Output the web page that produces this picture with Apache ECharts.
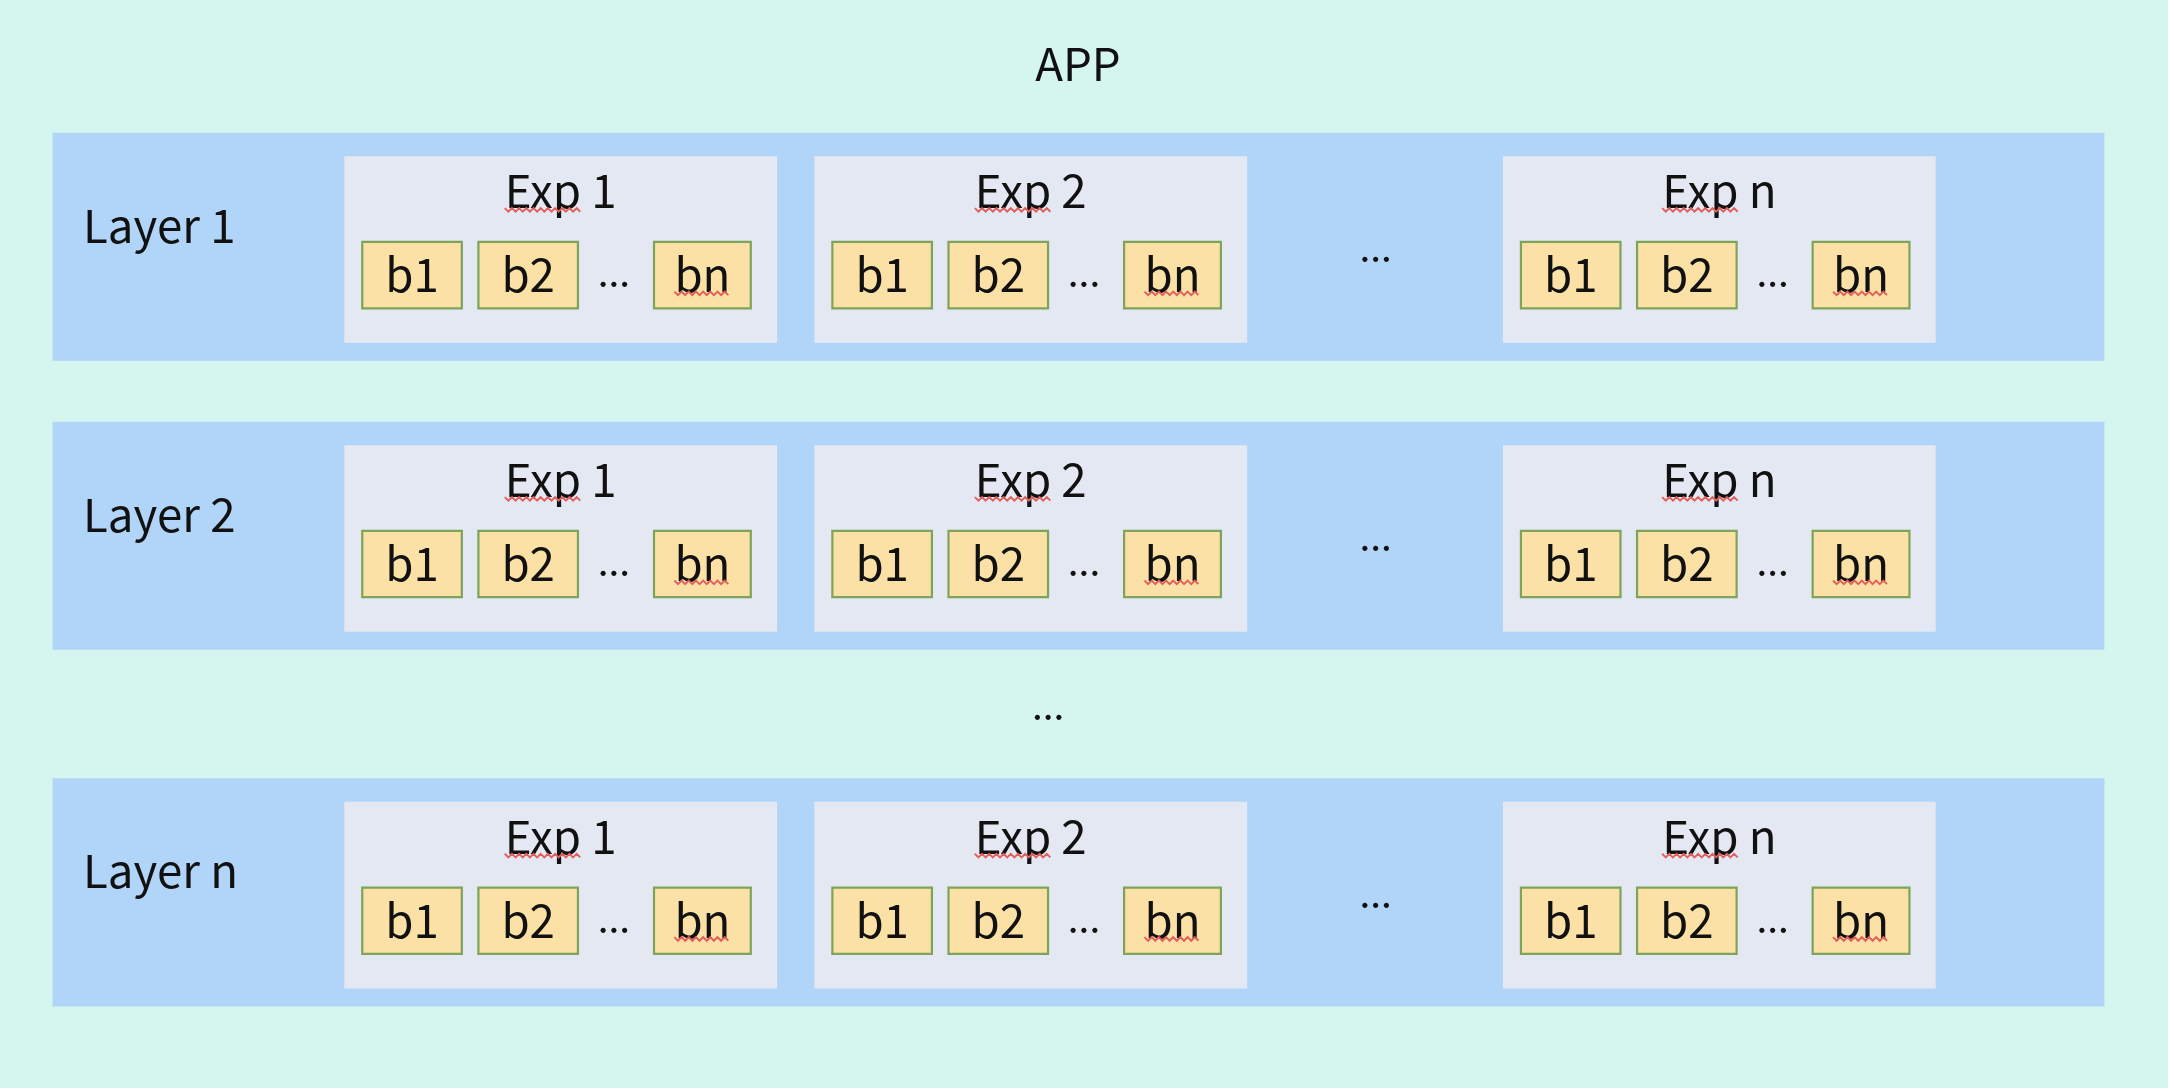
<!DOCTYPE html>
<html>
<head>
<meta charset="utf-8">
<title>APP layers</title>
<script src="https://cdn.jsdelivr.net/npm/echarts@6/dist/echarts.min.js"></script>
<style>
html,body{margin:0;padding:0;background:#d5f5ef;}
#main{width:2168px;height:1088px;}
</style>
</head>
<body>
<div id="main"></div>
<script>
// diagram content
var appName = 'APP';
var layers = ['Layer 1', 'Layer 2', 'Layer n'];
var experts = ['Exp 1', 'Exp 2', 'Exp n'];
var blocks = ['b1', 'b2', 'bn'];
var gapMark = '...';
var underlined = ['Exp', 'bn'];   // words carrying the red spell-check wave

// layout, in reference units (1568 x 787)
var W = 1568, H = 787;
var bandX0 = 38, bandX1 = 1522, bandTop = [96, 305, 563], bandH = 165;
var expLeft = [249, 589, 1087], expW = 313, expTop = 17, expH = 135, titleDy = 25;
var blkLeft = [13, 97, 224], blkW = [72, 72, 70], blkTop = 62, blkH = 48, blkDotsX = 195;
var expDotsX = 995, expDotsY = 83;
var layerGap = { x: 758, y: 510 };

var FONT = 'Noto Sans CJK SC, Noto Sans, sans-serif';
var dom = document.getElementById('main');
var myChart = echarts.init(dom);
var S = myChart.getWidth() / W;
var fs = 33 * S, dotFs = 28 * S;

var ctx = document.createElement('canvas').getContext('2d');
function textW(t, size) {
	ctx.font = size + 'px ' + FONT;
	return ctx.measureText(t).width;
}

// little red zigzag under a word (pixel coords)
function wave(x0, x1, y) {
	var pts = [], step = 2.6 * S, up = true;
	for (var x = x0; x <= x1; x += step) {
		pts.push([x, y + (up ? -1.3 * S : 1.3 * S)]);
		up = !up;
	}
	return {
		type: 'polyline',
		shape: { points: pts },
		style: { stroke: '#e2605c', lineWidth: 1.4 * S, fill: null }
	};
}

function label(t, x, y, size, align) {
	return {
		type: 'text',
		style: {
			text: t, x: x, y: y, fill: '#111',
			font: size + 'px ' + FONT,
			align: align || 'center', verticalAlign: 'middle'
		}
	};
}

function rect(api, x0, y0, x1, y1, fill, stroke) {
	var a = api.coord([x0, y0]), b = api.coord([x1, y1]);
	return {
		type: 'rect',
		shape: { x: a[0], y: a[1], width: b[0] - a[0], height: b[1] - a[1] },
		style: { fill: fill, stroke: stroke || null, lineWidth: stroke ? 1.6 * S : 0 }
	};
}

function renderLayer(params, api) {
	var li = api.value(0);
	var top = bandTop[li];
	var kids = [];
	kids.push(rect(api, bandX0, top, bandX1, top + bandH, '#b1d5f8'));
	var p = api.coord([60, top + 67]);
	kids.push(label(layers[li], p[0], p[1], fs, 'left'));

	experts.forEach(function (ex, ei) {
		var left = expLeft[ei], et = top + expTop;
		kids.push(rect(api, left, et, left + expW, et + expH, '#e4e8f3'));
		var c = api.coord([left + expW / 2, et + titleDy]);
		var tw = textW(ex, fs);
		kids.push(label(ex, c[0], c[1], fs));
		var w0 = c[0] - tw / 2;
		kids.push(wave(w0, w0 + textW(underlined[0], fs), c[1] + 0.42 * fs));

		blocks.forEach(function (bk, bi) {
			var bx = left + blkLeft[bi], by = et + blkTop;
			kids.push(rect(api, bx, by, bx + blkW[bi], by + blkH, '#fbe1a6', '#7ea45a'));
			var bc = api.coord([bx + blkW[bi] / 2, by + blkH / 2]);
			kids.push(label(bk, bc[0], bc[1], fs));
			if (underlined.indexOf(bk) >= 0) {
				var bw = textW(bk, fs);
				kids.push(wave(bc[0] - bw / 2, bc[0] + bw / 2, bc[1] + 0.4 * fs));
			}
		});
		var d = api.coord([left + blkDotsX, et + blkTop + blkH / 2 - 2]);
		kids.push(label(gapMark, d[0], d[1], dotFs));
	});

	var ed = api.coord([expDotsX, top + expDotsY]);
	kids.push(label(gapMark, ed[0], ed[1], dotFs));

	if (li === 1) {
		var g = api.coord([layerGap.x, layerGap.y]);
		kids.push(label(gapMark, g[0], g[1], dotFs));
	}
	return { type: 'group', children: kids };
}

var option = {
	backgroundColor: '#d5f5ef',
	animation: false,
	title: {
		text: appName,
		left: 776 * S,
		top: 26 * S,
		textAlign: 'center',
		textStyle: { fontFamily: FONT, fontSize: fs, fontWeight: 'normal', color: '#111' }
	},
	grid: { left: 0, right: 0, top: 0, bottom: 0 },
	xAxis: { type: 'value', min: 0, max: W, show: false },
	yAxis: { type: 'value', min: 0, max: H, inverse: true, show: false },
	series: [{
		type: 'custom',
		renderItem: renderLayer,
		data: layers.map(function (n, i) { return [i]; }),
		silent: true
	}]
};
myChart.setOption(option);
</script>
</body>
</html>
